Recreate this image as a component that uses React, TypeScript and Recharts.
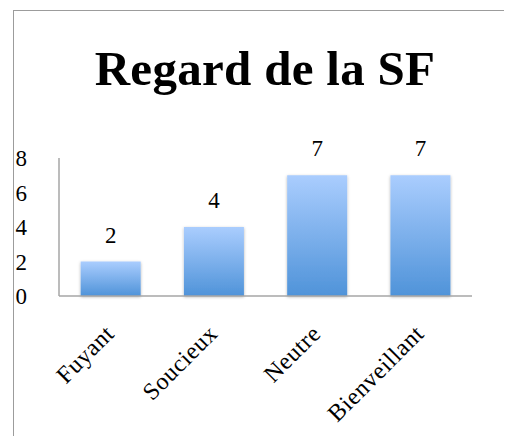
import { Bar, BarChart, LabelList, XAxis, YAxis } from "recharts";

const categories = ["Fuyant", "Soucieux", "Neutre", "Bienveillant"];
const values = [2, 4, 7, 7];
const yTicks = [0, 2, 4, 6, 8];
const title = "Regard de la SF";

const FONT = "'Liberation Serif', serif";
const AXIS = "#a6a6a6";

const data = categories.map((name, i) => ({ name, value: values[i] }));

function AngledTick({ x, y, payload }: any) {
  const px = x + 5;
  const py = y + 39;
  return (
    <text
      x={px}
      y={py}
      textAnchor="end"
      transform={`rotate(-45, ${px}, ${py})`}
      fontFamily={FONT}
      fontSize={24}
      letterSpacing={0.6}
      fill="#000"
    >
      {payload.value}
    </text>
  );
}

export default function App() {
  return (
    <div
      style={{
        position: "relative",
        top: 2,
        left: 5,
        width: 498,
        height: 427,
        borderLeft: "1px solid #9c9c9c",
        borderTop: "1px solid #9c9c9c",
      }}
    >
      <div
        style={{
          position: "absolute",
          top: 34,
          left: 2,
          width: 498,
          textAlign: "center",
          fontFamily: FONT,
          fontWeight: "bold",
          fontSize: 49,
          lineHeight: "48px",
          letterSpacing: 0.3,
          color: "#000",
        }}
      >
        {title}
      </div>
      <BarChart
        width={498}
        height={427}
        data={data}
        margin={{ top: 147, right: 40, bottom: 0, left: 0 }}
        barCategoryGap="21%"
      >
        <defs>
          <linearGradient id="barFill" x1="0" y1="0" x2="0" y2="1">
            <stop offset="0%" stopColor="#aacdfe" />
            <stop offset="100%" stopColor="#4f93d9" />
          </linearGradient>
          <filter id="barShadow" x="-20%" y="-20%" width="140%" height="140%">
            <feDropShadow dx="0" dy="1" stdDeviation="1.8" floodColor="#000" floodOpacity="0.3" />
          </filter>
        </defs>
        <XAxis
          dataKey="name"
          height={142}
          interval={0}
          tickLine={false}
          tickSize={0}
          tickMargin={0}
          axisLine={{ stroke: AXIS, strokeWidth: 1.5 }}
          tick={<AngledTick />}
        />
        <YAxis
          width={45}
          domain={[0, 8]}
          ticks={yTicks}
          interval={0}
          tickLine={false}
          tickSize={0}
          tickMargin={32}
          axisLine={{ stroke: AXIS, strokeWidth: 1.5 }}
          tick={{ fontFamily: FONT, fontSize: 23, fill: "#000" }}
        />
        <Bar
          dataKey="value"
          fill="url(#barFill)"
          filter="url(#barShadow)"
          isAnimationActive={false}
        >
          <LabelList
            dataKey="value"
            position="top"
            offset={19}
            fontFamily={FONT}
            fontSize={23}
            fill="#000"
          />
        </Bar>
      </BarChart>
    </div>
  );
}
